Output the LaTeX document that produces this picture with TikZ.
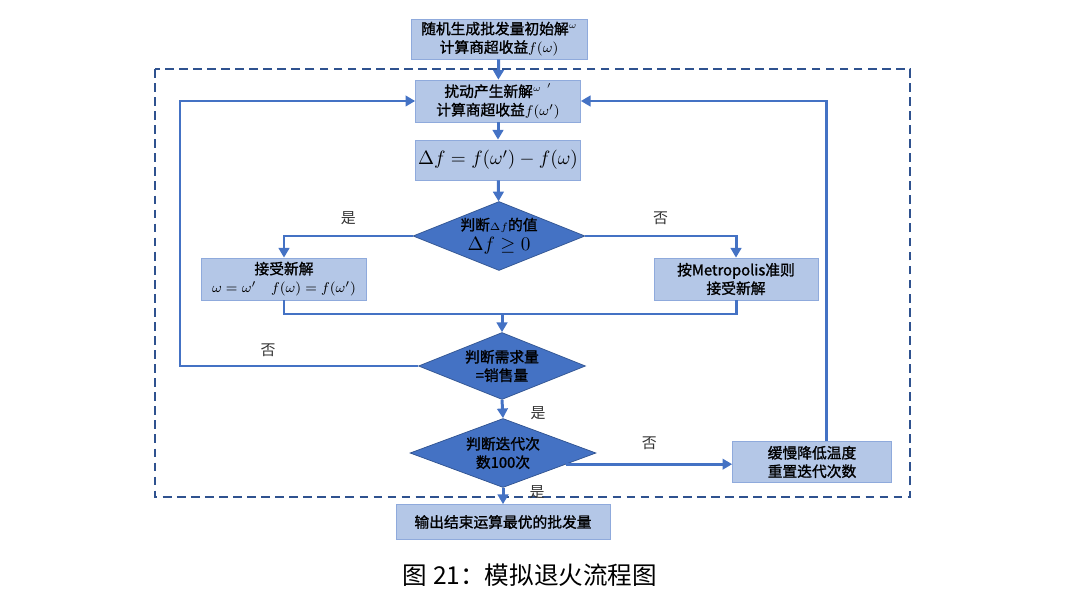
\documentclass[tikz,border=0pt]{standalone}
\usepackage{fontspec}
\newfontfamily\cjk[AutoFakeBold=1.3]{Noto Sans CJK SC}
\usetikzlibrary{shapes.geometric,positioning,arrows.meta}
\definecolor{boxfill}{HTML}{B4C7E7}
\definecolor{boxline}{HTML}{8FAADC}
\definecolor{dfill}{HTML}{4472C4}
\definecolor{dline}{HTML}{2F528F}
\definecolor{flowblue}{HTML}{4472C4}

\begin{document}
\begin{tikzpicture}[x=0.02cm,y=-0.02cm,->,>={Triangle[length=5.5pt,width=6pt]},
		font=\cjk\bfseries\fontsize{8.4}{10.5}\selectfont,
		box node/.style={rectangle,draw=boxline,fill=boxfill,align=center,inner sep=1pt,minimum width=3.3cm,minimum height=0.84cm},
		decide node/.style={diamond,draw=dline,fill=dfill,align=center,aspect=2.5,inner sep=-3pt},
		flow/.style={draw=flowblue,line width=1.7pt},
		tag/.style={font=\cjk\fontsize{8.5}{10}\selectfont,text=black!80}]
		\useasboundingbox (0,0) rectangle (1067,591);
		
		% outer loop frame
		\draw[-,dline,thick,dash pattern=on 5pt off 3pt] (155,69) rectangle (910,497);
		
		% boxes
		\node[box node,minimum width=3.52cm,minimum height=0.8cm] (init) at (499,39) {随机生成批发量初始解\raisebox{3pt}{$\scriptscriptstyle\omega$}\\计算商超收益$f(\omega)$};
		\node[box node] (perturb) at (498,101) {扰动产生新解\raisebox{3pt}{$\scriptscriptstyle\omega\;\,'$}\\计算商超收益$f(\omega')$};
		\node[box node,minimum height=0.8cm] (delta) at (498,160) {\fontsize{11}{13}\selectfont$\Delta f = f(\omega') - f(\omega)$};
		\node[decide node,minimum width=3.44cm,minimum height=1.38cm] (d1) at (499,236) {判断$\scriptstyle\Delta f$的值\\[1pt]\fontsize{11}{13}\selectfont$\Delta f \geq 0$};
		\node[box node] (accept) at (284,279) {接受新解\\$\omega=\omega'\quad f(\omega)=f(\omega')$};
		\node[box node,minimum width=3.28cm] (metro) at (736,279) {按Metropolis准则\\接受新解};
		\node[decide node,minimum width=3.34cm,minimum height=1.34cm] (d2) at (502,366) {判断需求量\\=销售量};
		\node[decide node,minimum width=3.72cm,minimum height=1.38cm] (d3) at (503,453) {判断迭代次\\数100次};
		\node[box node,minimum width=3.18cm,minimum height=0.82cm] (cool) at (812,462) {缓慢降低温度\\重置迭代次数};
		\node[box node,minimum width=4.28cm,minimum height=0.7cm] (out) at (503,522) {输出结束运算最优的批发量};
		\node[font=\cjk\fontsize{14}{16}\selectfont] (caption) at (530,575) {图 21：模拟退火流程图};
		
		% bends
		\coordinate (merge) at (502,314);
		\coordinate (loopL) at (180,366);
		\coordinate (loopR) at (826,101);
		
		% connectors
		\draw[flow] (init) -- (perturb);
		\draw[flow] (perturb) -- (delta);
		\draw[flow] (delta) -- (d1);
		\draw[flow] (d1.west) -| (accept.north) node[tag,pos=0.25,above=2pt] (yes1) {是};
		\draw[flow] (d1.east) -| (metro.north) node[tag,pos=0.25,above=2pt] (no1) {否};
		\draw[flow,-] (accept.south) |- (merge) -| (metro.south);
		\draw[flow] (merge) -- (d2.north);
		\draw[flow] (d2.west) -- (loopL) node[tag,pos=0.63,above=1pt] (no2) {否} |- (perturb.west);
		\draw[flow] (d2.south) -- (d3.north);
		\node[tag] (yes2) at (538,413) {是};
		\draw[flow] (d3.-10) -- (d3.-10 -| cool.west) node[tag,midway,above=4pt] (no3) {否};
		\draw[flow] (cool.north -| loopR) -- (loopR) -- (perturb.east);
		\draw[flow] (d3.south) -- (out.north);
		\node[tag] (yes3) at (537,492) {是};
\end{tikzpicture}
\end{document}
